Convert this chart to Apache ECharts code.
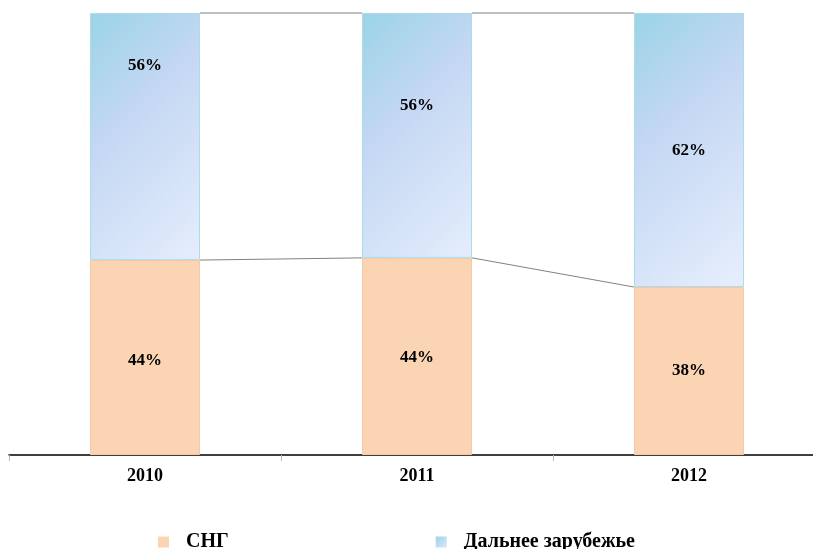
<!DOCTYPE html>
<html>
<head>
<meta charset="utf-8">
<script src="https://cdn.jsdelivr.net/npm/echarts@6/dist/echarts.min.js"></script>
<style>html,body{margin:0;padding:0;background:#fff;overflow:hidden}#c{width:826px;height:549px}</style>
</head>
<body>
<div id="c"></div>
<script>
var categories = ['2010', '2011', '2012'];
var seriesNames = ['СНГ', 'Дальнее зарубежье'];
var cisValues = [44.1, 44.6, 38.0];
var farValues = [55.9, 55.4, 62.0];
var cisLabels = ['44%', '44%', '38%'];
var farLabels = ['56%', '56%', '62%'];

var FONT = '"Liberation Serif", "Times New Roman", serif';
var BAR_W = 110;
var farOffsets = [[0, -71], [0, -30], [0, 1]];
var cisOffsets = [[0, 3], [0, 1.5], [0, 0]];

var blueGrad = new echarts.graphic.LinearGradient(0, 0, 1.6, 0.72, [
  {offset: 0, color: '#9ad4e6'},
  {offset: 0.4, color: '#c4d7f3'},
  {offset: 1, color: '#e4edfc'}
]);
var blueIcon = new echarts.graphic.LinearGradient(0, 0, 1, 1, [
  {offset: 0, color: '#9ad4e6'},
  {offset: 1, color: '#dbe6fb'}
]);

var connectData = [];
for (var i = 0; i < categories.length - 1; i++) {
  connectData.push([i, cisValues[i], cisValues[i + 1]]);
  connectData.push([i, cisValues[i] + farValues[i], cisValues[i + 1] + farValues[i + 1]]);
}

var chart = echarts.init(document.getElementById('c'));
chart.setOption({
  animation: false,
  grid: {left: 9, top: 13, right: 1, bottom: 94},
  legend: {
    left: 153, top: 526,
    itemWidth: 11, itemHeight: 11, itemGap: 207,
    data: [
      {name: seriesNames[0], icon: 'rect', itemStyle: {color: '#fbd4b4', borderWidth: 0}},
      {name: seriesNames[1], icon: 'rect', itemStyle: {color: blueIcon, borderWidth: 0}}
    ],
    textStyle: {fontFamily: FONT, fontWeight: 'bold', fontSize: 20, color: '#000', padding: [0, 0, 0, 12], lineHeight: 22}
  },
  xAxis: {
    type: 'category',
    data: categories,
    axisLine: {lineStyle: {color: '#000', width: 1.5}},
    axisTick: {show: true, length: 6, lineStyle: {color: '#bbbbbb'}},
    axisLabel: {fontFamily: FONT, fontWeight: 'bold', fontSize: 18, color: '#000', margin: 12}
  },
  yAxis: {type: 'value', min: 0, max: 100, show: false, splitLine: {show: false}},
  series: [
    {
      name: seriesNames[0], type: 'bar', stack: 'total', barWidth: BAR_W,
      itemStyle: {color: '#fbd4b4', borderColor: '#f6c8a3', borderWidth: 1},
      data: cisValues.map(function (v, i) {
        return {value: v, label: {offset: cisOffsets[i], formatter: cisLabels[i]}};
      }),
      label: {show: true, position: 'inside', fontFamily: FONT, fontWeight: 'bold', fontSize: 17, color: '#000'}
    },
    {
      name: seriesNames[1], type: 'bar', stack: 'total', barWidth: BAR_W,
      itemStyle: {color: blueGrad, borderColor: '#abdcec', borderWidth: 1},
      data: farValues.map(function (v, i) {
        return {value: v, label: {offset: farOffsets[i], formatter: farLabels[i]}};
      }),
      label: {show: true, position: 'inside', fontFamily: FONT, fontWeight: 'bold', fontSize: 17, color: '#000'}
    },
    {
      type: 'custom',
      silent: true,
      z: 1,
      encode: {x: 0, y: [1, 2]},
      data: connectData,
      renderItem: function (params, api) {
        var idx = api.value(0);
        var p1 = api.coord([idx, api.value(1)]);
        var p2 = api.coord([idx + 1, api.value(2)]);
        return {
          type: 'line',
          shape: {x1: p1[0] + BAR_W / 2, y1: p1[1], x2: p2[0] - BAR_W / 2, y2: p2[1]},
          style: {stroke: '#808080', lineWidth: 1}
        };
      }
    }
  ]
});
</script>
</body>
</html>
